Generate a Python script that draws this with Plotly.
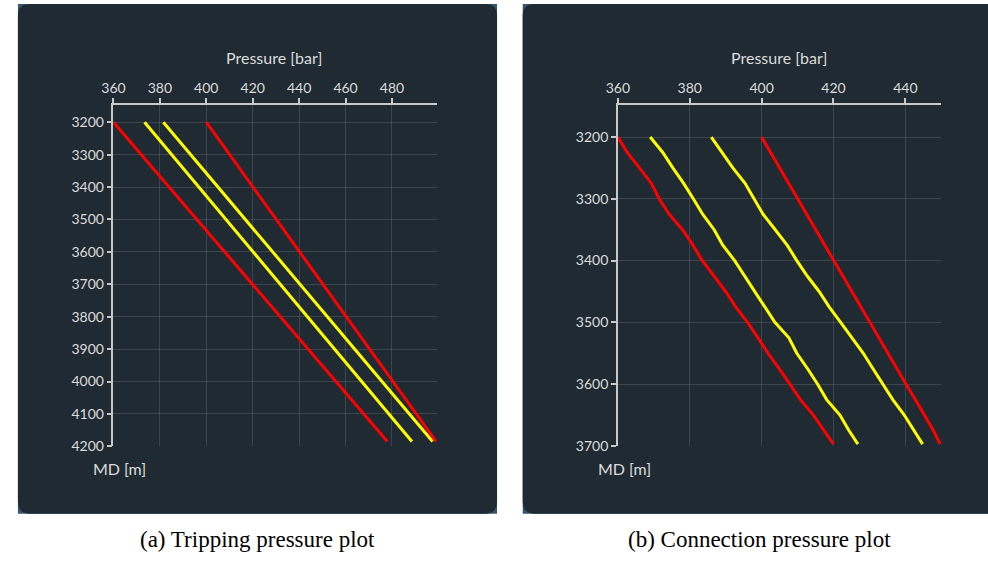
import plotly.graph_objects as go

# ---------------- data ----------------
# (a) Tripping pressure plot
trip_depth = [3200, 4185]
trip_red_low = [360.0, 478.0]
trip_yellow_low = [373.4, 488.6]
trip_yellow_high = [381.5, 497.5]
trip_red_high = [400.0, 499.0]

# (b) Connection pressure plot
conn_depth = [3200, 3225, 3250, 3275, 3300, 3325, 3350, 3375, 3400, 3425, 3450,
              3475, 3500, 3525, 3550, 3575, 3600, 3625, 3650, 3675, 3697]
conn_red_low = [360.0, 362.6, 366.0, 369.3, 371.5, 374.3, 378.0, 380.9, 383.5, 386.8, 390.0,
                392.8, 396.1, 399.0, 401.8, 404.9, 407.8, 410.8, 414.4, 417.3, 420.0]
conn_yellow_low = [369.0, 372.5, 375.3, 378.3, 381.0, 383.6, 386.8, 389.2, 392.5, 395.3, 398.2,
                   401.0, 403.7, 407.6, 409.8, 412.8, 415.6, 418.1, 421.8, 424.3, 426.8]
conn_yellow_high = [386.0, 389.0, 392.0, 395.4, 397.8, 400.4, 403.8, 407.1, 409.8, 412.7, 416.0,
                    418.8, 422.0, 425.2, 428.3, 431.0, 433.8, 436.5, 439.7, 442.3, 444.8]
conn_red_high = [400.0, 402.5, 405.0, 407.5, 410.1, 412.6, 415.1, 417.6, 420.1, 422.6, 425.2,
                 427.7, 430.2, 432.7, 435.2, 437.7, 440.2, 442.8, 445.3, 447.8, 449.7]

x_title = "Pressure [bar]"
y_title = "MD [m]"
captions = ["(a) Tripping pressure plot", "(b) Connection pressure plot"]

# ---------------- style ----------------
W, H = 988, 568
PANEL = "#1f2a33"
EDGE = "#35566c"
RED = "#ff0000"
YEL = "#ffff00"
TXT = "#dcdcdc"
AXC = "#c8c8c8"
GRID = "rgba(255,255,255,0.13)"
FONT = "Lato"


def px(x):
    return x / W


def py(y):
    return 1 - y / H


def rrect(x0, y0, x1, y1, r, round_right=True):
    # rounded rectangle path in paper coords (pixel input)
    def P(x, y):
        return f"{px(x):.5f},{py(y):.5f}"
    if round_right:
        return (f"M {P(x0 + r, y0)} L {P(x1 - r, y0)} Q {P(x1, y0)} {P(x1, y0 + r)} "
                f"L {P(x1, y1 - r)} Q {P(x1, y1)} {P(x1 - r, y1)} "
                f"L {P(x0 + r, y1)} Q {P(x0, y1)} {P(x0, y1 - r)} "
                f"L {P(x0, y0 + r)} Q {P(x0, y0)} {P(x0 + r, y0)} Z")
    return (f"M {P(x0 + r, y0)} L {P(x1, y0)} L {P(x1, y1)} "
            f"L {P(x0 + r, y1)} Q {P(x0, y1)} {P(x0, y1 - r)} "
            f"L {P(x0, y0 + r)} Q {P(x0, y0)} {P(x0 + r, y0)} Z")


fig = go.Figure()

line_w = 3
for xs, c in [(trip_red_low, RED), (trip_yellow_low, YEL), (trip_yellow_high, YEL), (trip_red_high, RED)]:
    fig.add_trace(go.Scatter(x=xs, y=trip_depth, mode="lines", line=dict(color=c, width=line_w),
                             xaxis="x", yaxis="y", showlegend=False, hoverinfo="skip"))
for xs, c in [(conn_red_low, RED), (conn_yellow_low, YEL), (conn_yellow_high, YEL), (conn_red_high, RED)]:
    fig.add_trace(go.Scatter(x=xs, y=conn_depth, mode="lines", line=dict(color=c, width=line_w),
                             xaxis="x2", yaxis="y2", showlegend=False, hoverinfo="skip"))

ydom = [py(452.7), py(106.7)]
common_x = dict(side="top", showline=True, linecolor=AXC, linewidth=1.5, ticks="outside",
                ticklen=5, tickwidth=1.5, tickcolor=AXC, showgrid=True, gridcolor=GRID,
                gridwidth=1, zeroline=False, tickfont=dict(family=FONT, size=14, color=TXT),
                dtick=20, tick0=360)
common_y = dict(showline=True, linecolor=AXC, linewidth=1.5, ticks="outside", ticklen=5,
                tickwidth=1.5, tickcolor=AXC, showgrid=True, gridcolor=GRID, gridwidth=1,
                zeroline=False, tickfont=dict(family=FONT, size=14, color=TXT), dtick=100,
                tick0=3200, domain=ydom)

fig.update_layout(
    width=W, height=H, margin=dict(l=0, r=0, t=0, b=0),
    paper_bgcolor="white", plot_bgcolor="rgba(0,0,0,0)",
    xaxis=dict(common_x, domain=[px(102.7), px(430.0)], range=[360, 499.3], anchor="y"),
    yaxis=dict(common_y, range=[4200, 3147.4], anchor="x"),
    xaxis2=dict(common_x, domain=[px(613.3), px(940.7)], range=[360, 450], anchor="y2"),
    yaxis2=dict(common_y, range=[3700.6, 3148.5], anchor="x2"),
)

shapes = []
# panel backgrounds: faint blue frame visible at corners, dark rounded panel on top
shapes.append(dict(type="rect", xref="paper", yref="paper", x0=px(6), x1=px(491), y0=py(521), y1=py(4),
                   fillcolor=EDGE, line=dict(width=0), layer="below"))
shapes.append(dict(type="path", xref="paper", yref="paper", path=rrect(6, 4, 491, 521, 12),
                   fillcolor=PANEL, line=dict(width=0), layer="below"))
shapes.append(dict(type="rect", xref="paper", yref="paper", x0=px(517), x1=px(988), y0=py(521), y1=py(4),
                   fillcolor=EDGE, line=dict(width=0), layer="below"))
shapes.append(dict(type="path", xref="paper", yref="paper", path=rrect(517, 4, 988, 521, 12, round_right=False),
                   fillcolor=PANEL, line=dict(width=0), layer="below"))
fig.update_layout(shapes=shapes)

ann = []
for cx in [265.3, 776.7]:
    ann.append(dict(x=px(cx), y=py(58), xref="paper", yref="paper", text=x_title, showarrow=False,
                    xanchor="center", yanchor="middle", font=dict(family=FONT, size=16, color=TXT)))
for cx in [108.7, 620.0]:
    ann.append(dict(x=px(cx), y=py(475), xref="paper", yref="paper", text=y_title, showarrow=False,
                    xanchor="center", yanchor="middle", font=dict(family=FONT, size=16, color=TXT)))
for cx, t in zip([248.5, 756.5], captions):
    ann.append(dict(x=px(cx), y=py(547), xref="paper", yref="paper", text=t, showarrow=False,
                    xanchor="center", yanchor="middle",
                    font=dict(family="Liberation Serif", size=23, color="black")))
fig.update_layout(annotations=ann)

fig.write_html("out.html")
